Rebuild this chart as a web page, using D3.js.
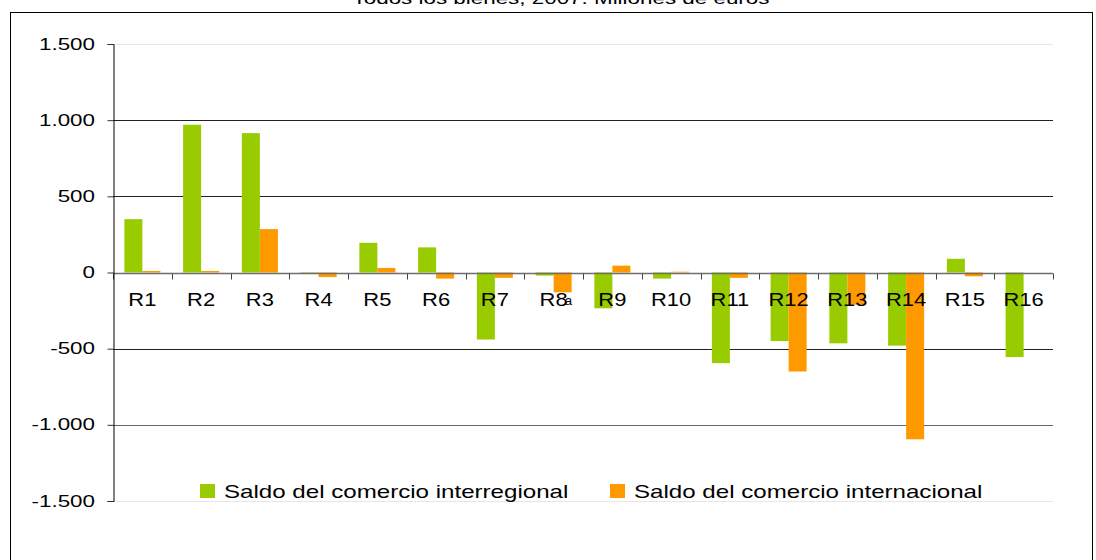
<!DOCTYPE html>
<html><head><meta charset="utf-8">
<script src="https://cdn.jsdelivr.net/npm/d3@7/dist/d3.min.js"></script>
<style>
html,body{margin:0;padding:0;background:#fff;}
svg{display:block;font-family:"Liberation Sans",Arial,sans-serif;}
</style></head>
<body>
<svg id="chart" width="1096" height="560"></svg>
<script>
// ---- data ----
const title = "Todos los bienes, 2007. Millones de euros";
const categories = ["R1","R2","R3","R4","R5","R6","R7","R8","R9","R10","R11","R12","R13","R14","R15","R16"];
const labelNotes = {"R8": "a"};
const seriesNames = ["Saldo del comercio interregional","Saldo del comercio internacional"];
const interregional = [350, 970, 915, -10, 195, 165, -440, -20, -235, -40, -595, -450, -465, -480, 90, -555];
const internacional = [10, 10, 285, -30, 30, -40, -35, -130, 45, 5, -35, -650, -210, -1095, -25, 0];
const yTicks = [1500, 1000, 500, 0, -500, -1000, -1500];
const yTickLabels = ["1.500","1.000","500","0","-500","-1.000","-1.500"];
const colors = ["#99cc00", "#ff9900"];

(function(){
// ---- layout ----
const svg = d3.select("#chart");
const pLeft = 113, pRight = 1053, pTop = 44, pBottom = 501;

// outer frame
svg.append("rect").attr("x",10.5).attr("y",12.5).attr("width",1082).attr("height",600)
  .attr("fill","none").attr("stroke","#000").attr("stroke-width",1);

// title (partly cut at top)
svg.append("text").attr("transform","translate(561,4) scale(1.4,1)")
  .attr("text-anchor","middle").attr("font-size",16).attr("fill","#000").text(title);

const y = d3.scaleLinear().domain([-1500,1500]).range([pBottom, pTop]);
const x = d3.scaleBand().domain(categories).range([pLeft, pRight]).paddingInner(0.387).paddingOuter(0.1935);
const xs = d3.scaleBand().domain([0,1]).range([0, x.bandwidth()]);

// gridlines
const gridColor = v => (Math.abs(v) === 1500 ? "#e6e6e6" : (v === -1000 ? "#666" : "#222"));
svg.append("g").selectAll("line").data(yTicks.filter(v => v !== 0)).join("line")
  .attr("x1", pLeft).attr("x2", pRight)
  .attr("y1", d => Math.round(y(d)) + 0.5).attr("y2", d => Math.round(y(d)) + 0.5)
  .attr("stroke", gridColor).attr("stroke-width", 1);

// bars
const series = [interregional, internacional];
const g = svg.append("g");
series.forEach((vals, si) => {
  g.selectAll(null).data(categories).join("rect")
    .attr("x", d => x(d) + xs(si))
    .attr("width", xs.bandwidth())
    .attr("y", (d, i) => Math.min(y(vals[i]), y(0)))
    .attr("height", (d, i) => Math.abs(y(vals[i]) - y(0)))
    .attr("fill", colors[si]);
});

// zero line with category ticks
const y0 = Math.round(y(0)) + 0.5;
svg.append("line").attr("x1", pLeft).attr("x2", pRight).attr("y1", y0).attr("y2", y0)
  .attr("stroke", "#6e6e6e").attr("stroke-width", 1.5);
const step = x.step();
const boundaries = d3.range(categories.length + 1).map(i => pLeft + i * step);
svg.append("g").selectAll("line").data(boundaries).join("line")
  .attr("x1", d => Math.round(d) + 0.5).attr("x2", d => Math.round(d) + 0.5)
  .attr("y1", y0).attr("y2", y0 + 6).attr("stroke", "#444");

// y axis
const yAxis = d3.axisLeft(y).tickValues(yTicks).tickSize(6).tickFormat("");
const ya = svg.append("g").attr("transform", `translate(${pLeft + 0.5},0)`).call(yAxis);
ya.select(".domain").attr("stroke", "#000");
ya.selectAll(".tick line").attr("stroke", "#333");
svg.append("g").selectAll("text").data(yTicks).join("text")
  .attr("transform", (d) => `translate(95,${y(d) + 5.5}) scale(1.4,1)`)
  .attr("text-anchor", "end").attr("font-size", 16).attr("fill", "#000")
  .text((d, i) => yTickLabels[i]);

// category labels
const lab = svg.append("g");
categories.forEach(c => {
  const cx = x(c) + x.bandwidth() / 2;
  lab.append("text").attr("transform", `translate(${cx},306) scale(1.22,1)`)
    .attr("text-anchor", "middle").attr("font-size", 18).attr("fill", "#000").text(c);
  if (labelNotes[c]) {
    lab.append("text").attr("transform", `translate(${cx + 11},305) scale(1.1,1)`)
      .attr("font-size", 12).attr("fill", "#000").text(labelNotes[c]);
  }
});

// legend
const legendX = [200, 610];
seriesNames.forEach((name, i) => {
  svg.append("rect").attr("x", legendX[i]).attr("y", 484).attr("width", 15).attr("height", 14).attr("fill", colors[i]);
  svg.append("text").attr("transform", `translate(${legendX[i] + 24},498) scale(1.34,1)`)
    .attr("font-size", 18).attr("fill", "#000").text(name);
});
})();
</script>
</body></html>
